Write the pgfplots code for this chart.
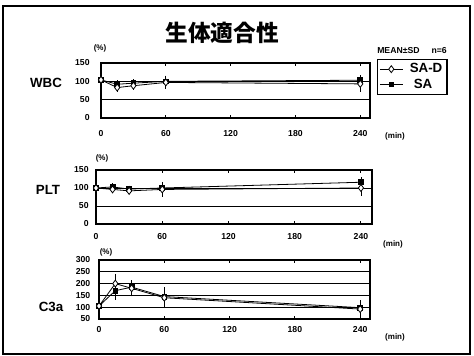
\documentclass[border=0pt]{standalone}
\usepackage{fontspec}
\setmainfont{Liberation Sans}
\newfontfamily\cjk{Noto Sans CJK JP}
\usepackage{pgfplots}
\pgfplotsset{compat=1.18}

\pgfplotsset{
  panel/.style={
    scale only axis,
    anchor=south west,
    xmin=0,
    xtick={0,60,120,180,240},
    axis line style={line width=0.9pt},
    ymajorgrids,
    grid style={black, line width=0.7pt},
    major tick length=2.5pt,
    tick align=inside,
    ytick style={draw=none},
    xtick style={line width=0.7pt, black},
    tick label style={font=\fontsize{6.5}{7}\selectfont\bfseries},
    /pgf/number format/assume math mode=true,
    clip=false,
  },
  sad/.style={black, line width=0.6pt, mark=diamond*, mark options={fill=white, solid, line width=0.6pt}, mark size=2.6pt,
    error bars/.cd, y dir=both, y explicit, error bar style={line width=0.5pt}, error mark options={line width=0.5pt, mark size=1.6pt}},
  sa/.style={black, line width=0.6pt, mark=square*, mark options={fill=black, solid}, mark size=1.8pt,
    error bars/.cd, y dir=both, y explicit, error bar style={line width=0.5pt}, error mark options={line width=0.5pt, mark size=1.6pt}},
}

\begin{document}
\begin{tikzpicture}[x=0.75pt,y=0.75pt]
\path[use as bounding box] (0,0) rectangle (474,356);
\draw[line width=1pt] (3,350) rectangle (470,2);

% Title and notes
\node[font=\cjk\bfseries\fontsize{17}{18}\selectfont] at (222,323) {生体適合性};
\node[font=\fontsize{6.5}{7}\selectfont\bfseries] at (412,305) {MEAN±SD\hspace{9pt}n=6};

% Row labels
\node[font=\fontsize{10}{11}\selectfont\bfseries] at (46,273) {WBC};
\node[font=\fontsize{10}{11}\selectfont\bfseries] at (48,166) {PLT};
\node[font=\fontsize{10}{11}\selectfont\bfseries] at (51,49) {C3a};

% (%) and (min)
\node[font=\fontsize{6}{7}\selectfont\bfseries] at (100,308) {(\%)};
\node[font=\fontsize{6}{7}\selectfont\bfseries] at (102,198) {(\%)};
\node[font=\fontsize{6}{7}\selectfont\bfseries] at (106,104) {(\%)};
\node[font=\fontsize{6}{7}\selectfont\bfseries] at (395,220) {(min)};
\node[font=\fontsize{6}{7}\selectfont\bfseries] at (393,112) {(min)};
\node[font=\fontsize{6}{7}\selectfont\bfseries] at (395,19) {(min)};

% WBC
\begin{axis}[panel,
  at={(75.75pt,178.5pt)}, width=201.75pt, height=41.25pt,
  xmax=249, ymin=0, ymax=150, ytick={0,50,100,150},
  xticklabel style={yshift=-6pt}, yticklabel style={xshift=-5pt},
  reverse legend,
  legend style={at={(1.026,1.073)}, anchor=north west, draw=black, line width=0.8pt,
    font=\fontsize{10}{11}\selectfont\bfseries, inner xsep=1.5pt, inner ysep=1pt, row sep=-1pt,
    /tikz/every odd column/.append style={column sep=3pt}},
  legend cell align=left,
]
\addplot[sa] coordinates {(0,104) +- (0,0) (15,92) +- (0,5) (30,95) +- (0,5) (60,100) +- (0,10) (240,103) +- (0,8)};
\addlegendentry{\hspace{3pt}SA\hspace{14pt}}
\addplot[sad] coordinates {(0,104) +- (0,0) (15,83) +- (0,5) (30,88) +- (0,5) (60,97) +- (0,12) (240,93) +- (0,15)};
\addlegendentry{SA-D\hspace{11pt}}
\end{axis}

% PLT
\begin{axis}[panel,
  at={(72pt,99pt)}, width=207pt, height=40.5pt,
  xmax=250, ymin=0, ymax=150, ytick={0,50,100,150},
  xticklabel style={yshift=-3.5pt}, yticklabel style={xshift=-2pt},
]
\addplot[sa] coordinates {(0,100) +- (0,0) (15,103) +- (0,4) (30,97) +- (0,4) (60,100) +- (0,10) (240,116) +- (0,8)};
\addplot[sad] coordinates {(0,100) +- (0,0) (15,96) +- (0,4) (30,92) +- (0,4) (60,96) +- (0,15) (240,100) +- (0,15)};
\end{axis}

% C3a
\begin{axis}[panel,
  at={(74.25pt,27.75pt)}, width=203.25pt, height=44.25pt,
  xmax=249, ymin=50, ymax=300, ytick={50,100,150,200,250,300},
  xticklabel style={yshift=-2pt}, yticklabel style={xshift=-3pt},
]
\addplot[sa] coordinates {(0,105) +- (0,0) (15,170) +- (0,30) (30,185) +- (0,20) (60,145) +- (0,30) (240,98) +- (0,15)};
\addplot[sad] coordinates {(0,105) +- (0,0) (15,200) +- (0,32) (30,180) +- (0,25) (60,140) +- (0,35) (240,92) +- (0,28)};
\end{axis}
\end{tikzpicture}
\end{document}
